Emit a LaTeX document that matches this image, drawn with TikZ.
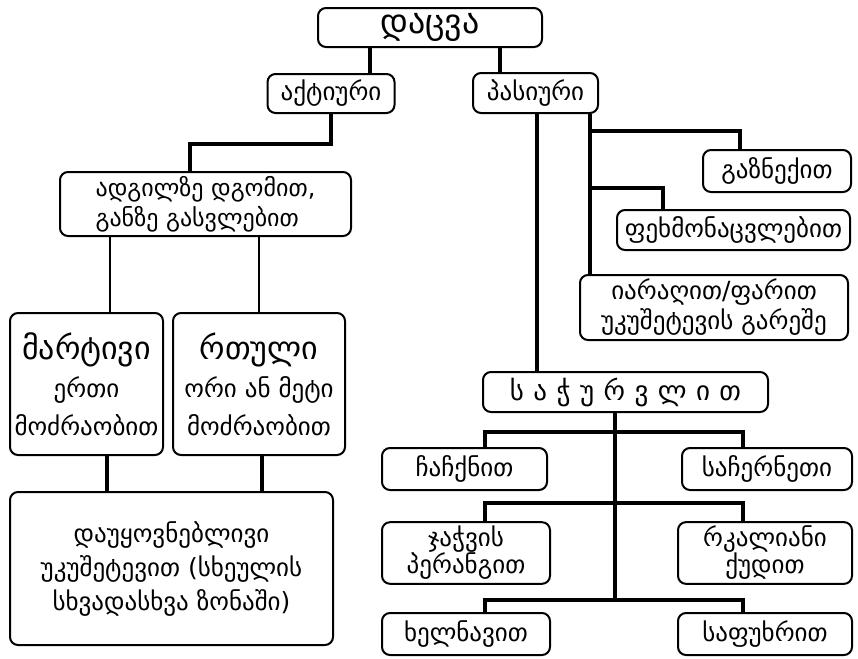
\documentclass[tikz,border=0pt]{standalone}
\usepackage{fontspec}
\setmainfont{DejaVu Sans}
\usetikzlibrary{positioning}

\tikzset{
  box/.style={draw, line width=1pt, rounded corners=4pt, inner sep=2pt, align=center,
    font=\fontsize{12.5}{14}\selectfont},
  link/.style={line width=1.6pt},
  thinlink/.style={line width=1.1pt}
}
\newcommand{\bigtxt}{\fontsize{16}{19}\selectfont}
\newcommand{\smalltxt}{\fontsize{12.5}{19}\selectfont}

\begin{document}
\begin{tikzpicture}[x=0.5pt,y=-0.5pt]
\fill[white] (0,0) rectangle (858,659);
\useasboundingbox (0,0) rectangle (858,659);

% top levels
\node (dacva) [box, minimum width=112pt, minimum height=19.5pt, font=\fontsize{17}{18}\selectfont] at (430,27.5) {დაცვა};
\node (aktiuri) [box, minimum width=63.5pt, minimum height=19.5pt] at (331,93.5) {აქტიური};
\node (pasiuri) [box, minimum width=62.5pt, minimum height=20pt] at (535.5,93) {პასიური};

% active branch
\node (adgilze) [box, minimum width=145.5pt, minimum height=32pt, align=left, font=\fontsize{12}{15}\selectfont] at (205.5,204) {ადგილზე დგომით,\\განზე გასვლებით};
\node (martivi) [box, minimum width=76.5pt, minimum height=71pt, font=\fontsize{12.5}{19}\selectfont] at (86.5,384) {{\bigtxt მარტივი}\\{\smalltxt ერთი}\\{\smalltxt მოძრაობით}};
\node (rtuli) [box, minimum width=86pt, minimum height=71pt, font=\fontsize{12.5}{19}\selectfont] at (259,384) {{\bigtxt რთული}\\{\smalltxt ორი ან მეტი}\\{\smalltxt მოძრაობით}};
\node (ukusheteva) [box, minimum width=161.5pt, minimum height=76.5pt, font=\fontsize{12.5}{17}\selectfont] at (171.5,568.5) {დაუყოვნებლივი\\უკუშეტევით (სხეულის\\სხვადასხვა ზონაში)};

% passive branch
\node (gaznekit) [box, minimum width=74pt, minimum height=21pt] at (777,171) {გაზნექით};
\node (pekhmon) [box, minimum width=116.5pt, minimum height=20pt] at (733.5,230) {ფეხმონაცვლებით};
\node (iaraghit) [box, minimum width=134pt, minimum height=32.5pt, font=\fontsize{12.5}{15}\selectfont] at (714,307.5) {იარაღით/ფარით\\უკუშეტევის გარეშე};
\node (sachurvlit) [box, minimum width=142.5pt, minimum height=20pt, font=\fontsize{13.5}{16}\selectfont\addfontfeature{LetterSpace=35}] at (625.5,392) {საჭურვლით};

% armour
\node (chachknit) [box, minimum width=82.5pt, minimum height=21pt] at (464.5,469) {ჩაჩქნით};
\node (sachernet) [box, minimum width=85pt, minimum height=21pt] at (767,469) {საჩერნეთი};
\node (jachvis) [box, minimum width=84pt, minimum height=30pt, font=\fontsize{12.5}{13.5}\selectfont] at (466,553) {ჯაჭვის\\პერანგით};
\node (rkaliani) [box, minimum width=87pt, minimum height=30pt, font=\fontsize{12.5}{13.5}\selectfont] at (765,553) {რკალიანი\\ქუდით};
\node (khelnavit) [box, minimum width=84pt, minimum height=21pt] at (466,634) {ხელნავით};
\node (sapukhrit) [box, minimum width=87pt, minimum height=21pt] at (765,634) {საფუხრით};

% branch points
\coordinate (xa) at (370,0);
\coordinate (xb) at (500,0);
\coordinate (e1) at (190,144);
\coordinate (p1) at (537,0);
\coordinate (p2) at (590,0);
\coordinate (g1) at (590,131);
\coordinate (g2) at (590,188);
\coordinate (m1) at (110,0);
\coordinate (b1) at (107,0);
\coordinate (b2) at (262,0);
\coordinate (c1) at (615,0);
\coordinate (l1) at (485,0);
\coordinate (r1) at (743,0);
\coordinate (h1) at (615,432);
\coordinate (h2) at (615,503);
\coordinate (h3) at (615,600);

\draw[link] (dacva.south -| xa) -- (aktiuri.north -| xa);
\draw[link] (dacva.south -| xb) -- (pasiuri.north -| xb);
\draw[link] (aktiuri.south) |- (e1) -- (adgilze.north -| e1);

\draw[thinlink] (adgilze.south -| m1) -- (martivi.north -| m1);
\draw[thinlink] (adgilze.south -| rtuli.north) -- (rtuli.north);
\draw[link] (martivi.south -| b1) -- (ukusheteva.north -| b1);
\draw[link] (rtuli.south -| b2) -- (ukusheteva.north -| b2);

\draw[link] (pasiuri.south -| p1) -- (sachurvlit.north -| p1);
\draw[link] (pasiuri.south -| p2) -- (iaraghit.north -| p2);
\draw[link] (g1) -| ([xshift=-18.5pt]gaznekit.north);
\draw[link] (g2) -| ([xshift=-35.25pt]pekhmon.north);

\draw[link] (sachurvlit.south -| c1) -- (h3);
\draw[link] (chachknit.north -| l1) |- (h1) -| (sachernet.north -| r1);
\draw[link] (jachvis.north -| l1) |- (h2) -| (rkaliani.north -| r1);
\draw[link] (khelnavit.north -| l1) |- (h3) -| (sapukhrit.north -| r1);
\end{tikzpicture}
\end{document}
